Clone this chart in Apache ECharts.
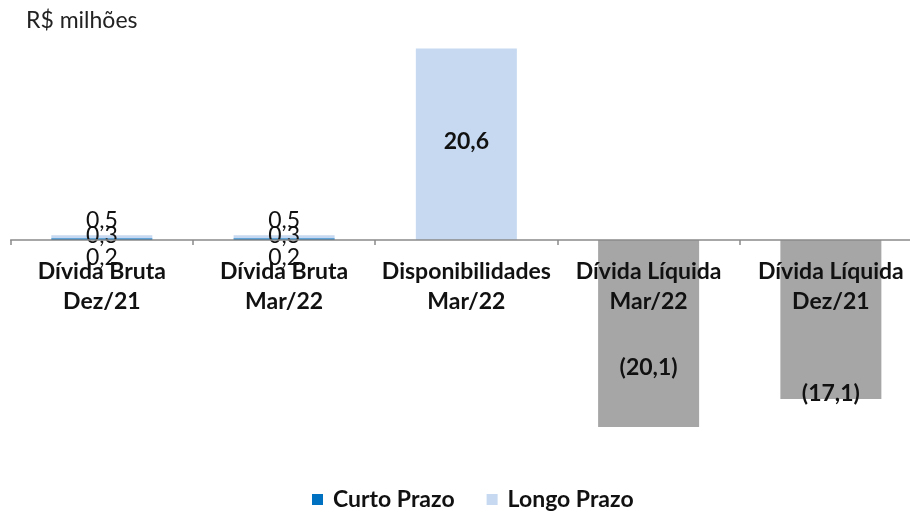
<!DOCTYPE html>
<html><head><meta charset="utf-8">
<script src="https://cdn.jsdelivr.net/npm/echarts@6/dist/echarts.min.js"></script>
<style>html,body{margin:0;padding:0;background:#fff}#c{width:910px;height:513px}</style>
</head><body><div id="c"></div>
<script>
const categories = ['Dívida Bruta\nDez/21', 'Dívida Bruta\nMar/22', 'Disponibilidades\nMar/22', 'Dívida Líquida\nMar/22', 'Dívida Líquida\nDez/21'];
const curtoPrazo = [0.2, 0.2, null, null, null];
const longoPrazo = [0.3, 0.3, 20.6, null, null];
const dividaLiquida = [null, null, null, -20.1, -17.1];
const totais = [0.5, 0.5, null, null, null];

const FONT = 'Lato, "Open Sans", sans-serif';
const FS = 23;
const Y_MIN = -24, Y_MAX = 24, GRID_TOP = 16.8, GRID_BOTTOM = 49.8, H = 513;
const zeroOffset = -((H - GRID_BOTTOM) - (GRID_TOP + (H - GRID_TOP - GRID_BOTTOM) * Y_MAX / (Y_MAX - Y_MIN)));
const fmt = v => {
  const s = Math.abs(v).toFixed(1).replace('.', ',');
  return v < 0 ? '(' + s + ')' : s;
};
const liqOffsets = [null, null, null, [0, 34], [0, 74]];
const longoBold = [false, false, true, false, false];

const chart = echarts.init(document.getElementById('c'));
chart.setOption({
  animation: false,
  title: {text: 'R$ milhões', left: 21, top: 4, textStyle: {fontFamily: FONT, fontWeight: 'normal', fontSize: FS, color: '#222'}},
  legend: {
    top: 483, left: 307, itemWidth: 11, itemHeight: 11, itemGap: 32,
    data: ['Curto Prazo', 'Longo Prazo'],
    icon: 'rect',
    textStyle: {fontFamily: FONT, fontWeight: 'bold', fontSize: FS, color: '#111', padding: [0, 0, 0, 5]}
  },
  grid: {left: 10.7, right: -12, top: GRID_TOP, bottom: GRID_BOTTOM, containLabel: false, outerBoundsMode: 'none'},
  xAxis: {
    type: 'category', data: categories, z: 10, position: 'bottom', offset: zeroOffset,
    axisLine: {onZero: false, lineStyle: {color: '#8a8a8a', width: 1.5}},
    axisTick: {show: true, length: 5, lineStyle: {color: '#8a8a8a', width: 1.5}},
    axisLabel: {interval: 0, margin: 17, lineHeight: 30, fontFamily: FONT, fontWeight: 'bold', fontSize: FS, color: '#111'}
  },
  yAxis: {type: 'value', min: Y_MIN, max: Y_MAX, show: false, splitLine: {show: false}},
  series: [
    {
      name: 'Curto Prazo', type: 'bar', stack: 'a', barWidth: 101,
      itemStyle: {color: '#0070C0'},
      data: curtoPrazo,
      label: {show: true, position: 'inside', offset: [0, 19], formatter: p => fmt(p.value), fontFamily: FONT, fontSize: FS, color: '#111'}
    },
    {
      name: 'Longo Prazo', type: 'bar', stack: 'a', barWidth: 101,
      itemStyle: {color: '#C6D9F1'},
      data: longoPrazo.map((v, i) => v == null ? null : {value: v, label: {fontWeight: longoBold[i] ? 'bold' : 'normal', offset: longoBold[i] ? [0, -3] : [0, -1]}}),
      label: {show: true, position: 'inside', formatter: p => fmt(p.value), fontFamily: FONT, fontSize: FS, color: '#111'}
    },
    {
      name: 'Dívida Líquida', type: 'bar', stack: 'a', barWidth: 101,
      itemStyle: {color: '#A6A6A6'},
      data: dividaLiquida.map((v, i) => v == null ? null : {value: v, label: {offset: liqOffsets[i]}}),
      label: {show: true, position: 'inside', formatter: p => fmt(p.value), fontFamily: FONT, fontWeight: 'bold', fontSize: FS, color: '#111'}
    },
    {
      name: 'Total', type: 'bar', barGap: '-100%', barWidth: 101,
      itemStyle: {color: 'rgba(0,0,0,0)'},
      data: totais,
      label: {show: true, position: 'top', distance: 3, formatter: p => fmt(p.value), fontFamily: FONT, fontSize: FS, color: '#111'}
    }
  ]
});
</script></body></html>
